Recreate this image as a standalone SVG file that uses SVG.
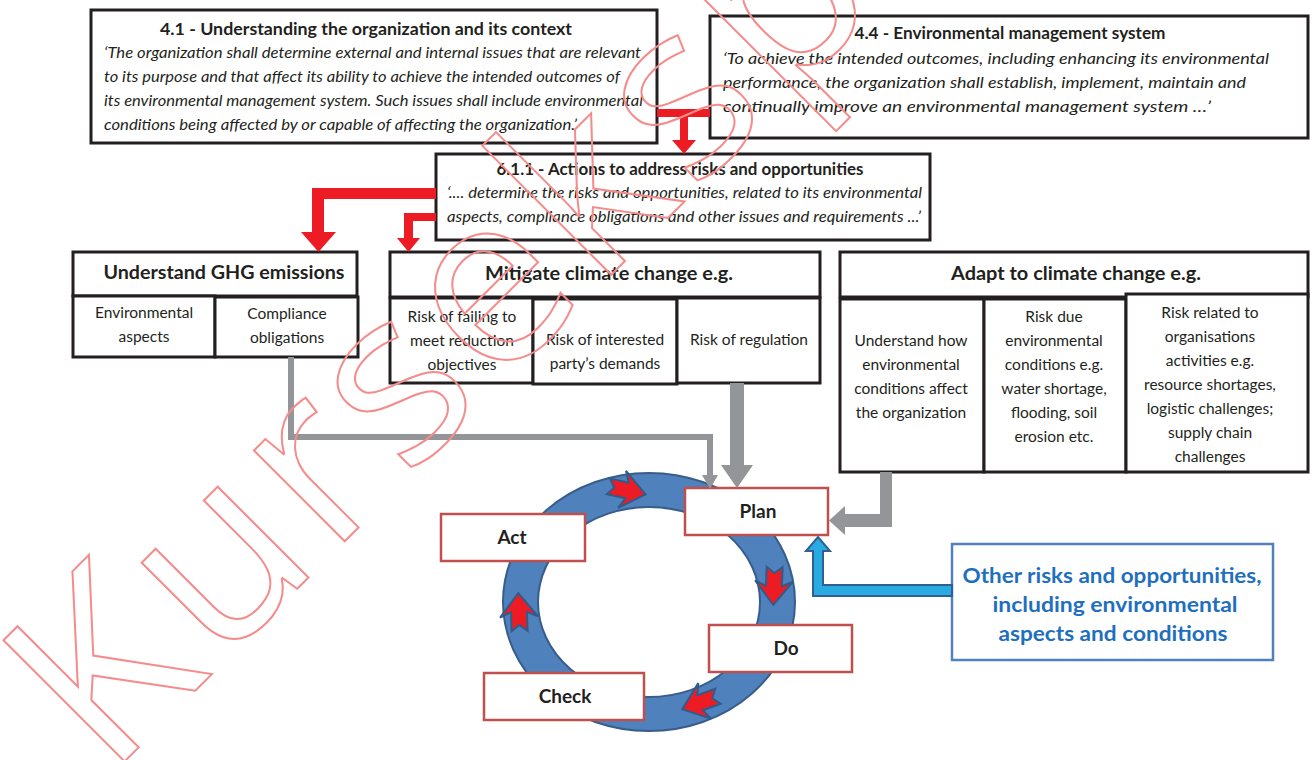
<svg xmlns="http://www.w3.org/2000/svg" width="1312" height="760" viewBox="0 0 1312 760">
<style>
text{font-family:Lato,"Open Sans","Liberation Sans",sans-serif;fill:#231f20}
.box{fill:#fff;stroke:#231f20;stroke-width:3}
.t{font-weight:bold;font-size:17px;text-anchor:middle}
.q{font-style:italic;font-size:16px}
.h{font-weight:bold;font-size:19px;text-anchor:middle}
.c{font-size:15.5px;text-anchor:middle}
.pd{fill:#fff;stroke:#c0504d;stroke-width:2.5}
.pt{font-weight:bold;font-size:19px;text-anchor:middle}
.red{fill:#ed1c24}
.gray{fill:#939598}
.rarr{fill:#ed1c24;stroke:#2f5c8a;stroke-width:2;stroke-linejoin:miter}
.wm{fill:none;stroke:#f58c8c;stroke-width:2;font-family:"Open Sans",Lato,sans-serif;font-size:240px;letter-spacing:10px}
</style>
<defs>
<path id="ra" d="M-17,-8 L2,-8 L-3,-19 L21,0 L-3,19 L2,8 L-17,8 L-11,0 Z"/>
</defs>

<g id="pdca-ring">
<path d="M503,602 a146,129 0 1,0 292,0 a146,129 0 1,0 -292,0 Z M538,602 a111,95 0 1,1 222,0 a111,95 0 1,1 -222,0 Z" fill="#4f81bd" stroke="#385d8a" stroke-width="2" fill-rule="evenodd"/>
<use href="#ra" class="rarr" transform="translate(625,490) rotate(12)"/>
<use href="#ra" class="rarr" transform="translate(774,584) rotate(92)"/>
<use href="#ra" class="rarr" transform="translate(702,702) rotate(160)"/>
<use href="#ra" class="rarr" transform="translate(519,614) rotate(-92)"/>
</g>

<g id="box-4-1">
<rect class="box" x="91" y="10" width="566" height="133"/>
<text class="t" x="366" y="35" textLength="412" lengthAdjust="spacingAndGlyphs">4.1 - Understanding the organization and its context</text>
<text class="q" x="104" y="58" textLength="537" lengthAdjust="spacingAndGlyphs">‘The organization shall determine external and internal issues that are relevant</text>
<text class="q" x="104" y="82" textLength="516" lengthAdjust="spacingAndGlyphs">to its purpose and that affect its ability to achieve the intended outcomes of</text>
<text class="q" x="104" y="106" textLength="539" lengthAdjust="spacingAndGlyphs">its environmental management system. Such issues shall include environmental</text>
<text class="q" x="104" y="130" textLength="473" lengthAdjust="spacingAndGlyphs">conditions being affected by or capable of affecting the organization.’</text>
</g>

<g id="box-4-4">
<rect class="box" x="710" y="16" width="598" height="122"/>
<text class="t" x="1010" y="39" textLength="311" lengthAdjust="spacingAndGlyphs">4.4 - Environmental management system</text>
<text class="q" x="723" y="64" textLength="546" lengthAdjust="spacingAndGlyphs">‘To achieve the intended outcomes, including enhancing its environmental</text>
<text class="q" x="723" y="88" textLength="523" lengthAdjust="spacingAndGlyphs">performance, the organization shall establish, implement, maintain and</text>
<text class="q" x="723" y="112" textLength="488" lengthAdjust="spacingAndGlyphs">continually improve an environmental management system …’</text>
</g>

<g id="box-6-1-1">
<rect class="box" x="436" y="154" width="494" height="86"/>
<text class="t" x="680" y="175" textLength="367" lengthAdjust="spacingAndGlyphs">6.1.1 - Actions to address risks and opportunities</text>
<text class="q" x="447" y="198" textLength="475" lengthAdjust="spacingAndGlyphs">‘.... determine the risks and opportunities, related to its environmental</text>
<text class="q" x="447" y="222" textLength="474" lengthAdjust="spacingAndGlyphs">aspects, compliance obligations and other issues and requirements ...’</text>
</g>

<g id="ghg">
<rect class="box" x="73" y="252" width="284" height="44"/>
<text class="h" x="224" y="279" textLength="241" lengthAdjust="spacingAndGlyphs">Understand GHG emissions</text>
<rect class="box" x="73" y="296" width="142" height="61"/>
<text class="c" x="144" y="318">Environmental</text>
<text class="c" x="144" y="342">aspects</text>
<rect class="box" x="215" y="297" width="143" height="60"/>
<text class="c" x="287" y="319">Compliance</text>
<text class="c" x="287" y="343">obligations</text>
</g>

<g id="mitigate">
<rect class="box" x="390" y="252" width="430" height="45"/>
<text class="h" x="609" y="280" textLength="248" lengthAdjust="spacingAndGlyphs">Mitigate climate change e.g.</text>
<rect class="box" x="390" y="298" width="143" height="85"/>
<text class="c" x="462" y="322">Risk of failing to</text>
<text class="c" x="462" y="346">meet reduction</text>
<text class="c" x="462" y="370">objectives</text>
<rect class="box" x="533" y="299" width="144" height="85"/>
<text class="c" x="605" y="345">Risk of interested</text>
<text class="c" x="605" y="369">party’s demands</text>
<rect class="box" x="677" y="298" width="143" height="85"/>
<text class="c" x="749" y="345">Risk of regulation</text>
</g>

<g id="adapt">
<rect class="box" x="840" y="252" width="468" height="45"/>
<text class="h" x="1076" y="280" textLength="250" lengthAdjust="spacingAndGlyphs">Adapt to climate change e.g.</text>
<rect class="box" x="840" y="299" width="144" height="173"/>
<text class="c" x="911" y="346">Understand how</text>
<text class="c" x="911" y="370">environmental</text>
<text class="c" x="911" y="394">conditions affect</text>
<text class="c" x="911" y="418">the organization</text>
<rect class="box" x="984" y="299" width="142" height="173"/>
<text class="c" x="1054" y="322">Risk due</text>
<text class="c" x="1054" y="346">environmental</text>
<text class="c" x="1054" y="370">conditions e.g.</text>
<text class="c" x="1054" y="394">water shortage,</text>
<text class="c" x="1054" y="418">flooding, soil</text>
<text class="c" x="1054" y="442">erosion etc.</text>
<rect class="box" x="1126" y="294" width="182" height="178"/>
<text class="c" x="1210" y="318">Risk related to</text>
<text class="c" x="1210" y="342">organisations</text>
<text class="c" x="1210" y="366">activities e.g.</text>
<text class="c" x="1210" y="390">resource shortages,</text>
<text class="c" x="1210" y="414">logistic challenges;</text>
<text class="c" x="1210" y="438">supply chain</text>
<text class="c" x="1210" y="462">challenges</text>
</g>

<g id="plan">
<rect class="pd" x="685" y="488" width="143" height="47"/>
<text class="pt" x="758" y="518">Plan</text>
</g>
<g id="act">
<rect class="pd" x="441" y="514" width="144" height="47"/>
<text class="pt" x="512" y="544">Act</text>
</g>
<g id="do">
<rect class="pd" x="709" y="625" width="143" height="47"/>
<text class="pt" x="786" y="655">Do</text>
</g>
<g id="check">
<rect class="pd" x="484" y="673" width="160" height="47"/>
<text class="pt" x="565" y="703">Check</text>
</g>

<g id="other-risks">
<rect x="952" y="544" width="321" height="116" fill="#fff" stroke="#4f81bd" stroke-width="2.5"/>
<text x="1112" y="583" font-weight="bold" font-size="21" text-anchor="middle" style="fill:#1f6fc0" textLength="299" lengthAdjust="spacingAndGlyphs">Other risks and opportunities,</text>
<text x="1115" y="612" font-weight="bold" font-size="21" text-anchor="middle" style="fill:#1f6fc0" textLength="245" lengthAdjust="spacingAndGlyphs">including environmental</text>
<text x="1113" y="641" font-weight="bold" font-size="21" text-anchor="middle" style="fill:#1f6fc0" textLength="229" lengthAdjust="spacingAndGlyphs">aspects and conditions</text>
</g>

<g id="connectors">
<path class="red" d="M657,109 H710 V117 H688 V140 H696 L684,154 L672,140 H680 V117 H657 Z"/>
<path class="red" d="M436,188 H312 V232 H301 L318.5,252 L336,232 H324 V199 H436 Z"/>
<path class="red" d="M436,213 H404 V238 H397 L408.5,252 L420,238 H413 V221 H436 Z"/>
<path d="M291,357 V437 H710 V476" fill="none" stroke="#939598" stroke-width="6"/>
<path class="gray" d="M702,475 H718 L710,489 Z"/>
<path class="gray" d="M730,383 H744 V465 H753 L737,488 L721,465 H730 Z"/>
<path class="gray" d="M880,472 H892 V527 H845 V535 L829,520.5 L845,506 V514 H880 Z"/>
<path d="M952,585 H823 V551 H830 L818,537 L806,551 H813 V596 H952 Z" fill="#29abe2" stroke="#2f5f95" stroke-width="2"/>
</g>

<g id="watermark">
<text class="wm" transform="translate(108,778) rotate(-45)">Kurseksperten</text>
</g>
</svg>
